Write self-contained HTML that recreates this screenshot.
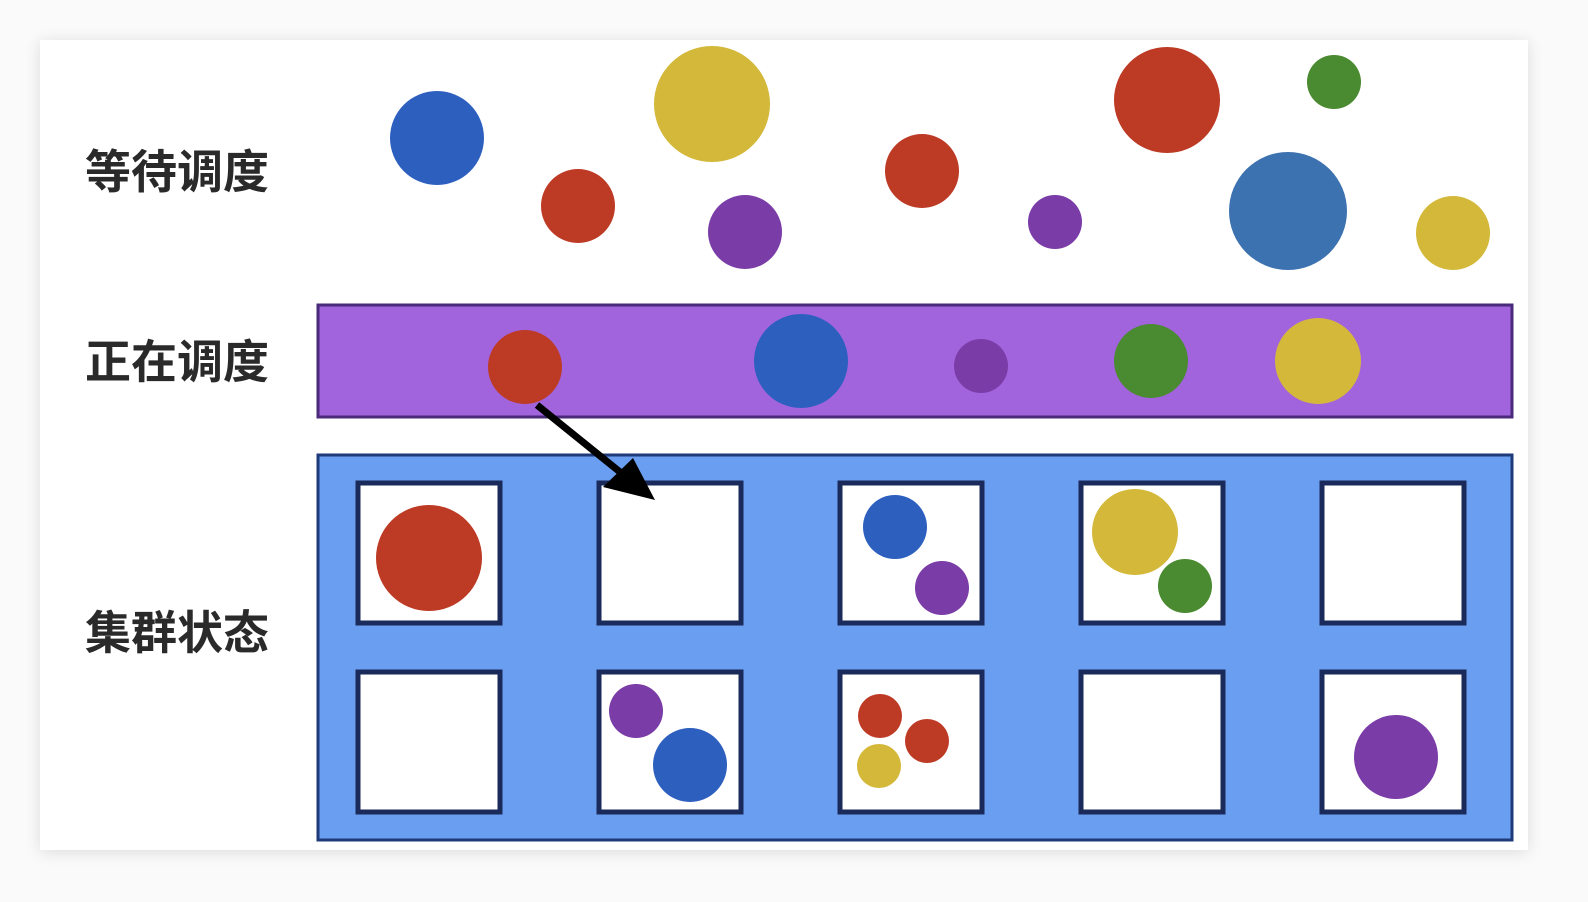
<!DOCTYPE html>
<html><head><meta charset="utf-8"><style>
html,body{margin:0;padding:0;background:#fafafa;width:1588px;height:902px;overflow:hidden}
svg{display:block}
text{font-family:"Liberation Sans","Noto Sans CJK SC",sans-serif;font-size:46px;font-weight:bold;fill:#2a2a2a}
</style></head><body>
<svg width="1588" height="902">
<defs><filter id="sh" x="-5%" y="-5%" width="110%" height="110%"><feGaussianBlur stdDeviation="8"/></filter></defs>
<rect x="40" y="42" width="1488" height="810" fill="#000" opacity="0.12" filter="url(#sh)"/>
<rect x="40" y="40" width="1488" height="810" fill="#fff"/>
<text x="85" y="188">等待调度</text>
<text x="85" y="378">正在调度</text>
<text x="85" y="649">集群状态</text>
<rect x="318" y="305" width="1194" height="112" fill="#a264dc" stroke="#4a2a7a" stroke-width="3"/>
<rect x="318" y="455" width="1194" height="385" fill="#6a9ef0" stroke="#1f3a78" stroke-width="3"/>
<g id="boxes"></g>
<g id="circles"></g>
<line x1="537" y1="405" x2="620" y2="472" stroke="#000" stroke-width="7"/>
<polygon points="655,500 603,487 633,458" fill="#000"/>
</svg>
<script>
var C={b:'#2d5fbf',r:'#bd3a25',y:'#d4b83a',p:'#7a3ca6',g:'#4a8a30',s:'#3d72b0'};
var pods=[[437,138,47,'b'],[578,206,37,'r'],[712,104,58,'y'],[745,232,37,'p'],[922,171,37,'r'],[1055,222,27,'p'],[1167,100,53,'r'],[1334,82,27,'g'],[1288,211,59,'s'],[1453,233,37,'y'],
[525,367,37,'r'],[801,361,47,'b'],[981,366,27,'p'],[1151,361,37,'g'],[1318,361,43,'y'],
[429,558,53,'r'],[895,527,32,'b'],[942,588,27,'p'],[1135,532,43,'y'],[1185,586,27,'g'],
[636,711,27,'p'],[690,765,37,'b'],[880,716,22,'r'],[927,741,22,'r'],[879,766,22,'y'],[1396,757,42,'p']];
var cols=[358,599,840,1081,1322], rows=[483,672];
var ns='http://www.w3.org/2000/svg';
var bg=document.getElementById('boxes');
rows.forEach(function(y,ri){cols.forEach(function(x,ci){
 var r=document.createElementNS(ns,'rect');
 r.setAttribute('x',x);r.setAttribute('y',y);r.setAttribute('width',142);r.setAttribute('height',140);
 r.setAttribute('fill','#fff');r.setAttribute('stroke','#1a2a5a');r.setAttribute('stroke-width',5);
 
 
 bg.appendChild(r);});});
var cg=document.getElementById('circles');
pods.forEach(function(p){
 var c=document.createElementNS(ns,'circle');
 c.setAttribute('cx',p[0]);c.setAttribute('cy',p[1]);c.setAttribute('r',p[2]);c.setAttribute('fill',C[p[3]]);
 
 
 cg.appendChild(c);});
</script>
</body></html>
